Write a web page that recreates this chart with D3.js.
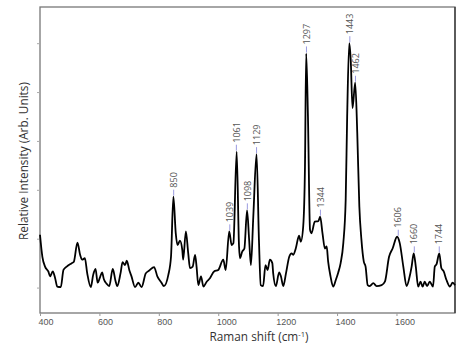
<!DOCTYPE html>
<html>
<head>
<meta charset="utf-8">
<script src="https://cdn.jsdelivr.net/npm/d3@7"></script>
<style>
  body { margin: 0; background: #fff; }
  svg { display: block; font-family: "Open Sans", "DejaVu Sans", sans-serif; }
</style>
</head>
<body>
<div class="container"></div>
<script>
// Raman shift (cm-1) and relative intensity
const shift = [400, 408, 417, 428, 434, 443, 451, 458, 470, 479, 490, 507, 514, 526, 535, 542, 551, 559, 571, 579,
  587, 594, 602, 609, 615, 624, 633, 645, 654, 660, 671, 678, 686, 692, 701, 708, 720, 731, 742, 756,
  768, 784, 795, 809, 817, 832, 841, 849, 857, 863, 871, 879, 882, 891, 899, 905, 914, 922, 927, 933,
  942, 950, 961, 972, 986, 1000, 1017, 1025, 1037, 1045, 1051, 1062, 1070, 1073, 1081, 1088, 1097, 1104, 1110, 1118,
  1129, 1137, 1143, 1151, 1159, 1166, 1174, 1182, 1185, 1194, 1205, 1211, 1219, 1228, 1239, 1247, 1252, 1261, 1272, 1278,
  1286, 1292, 1296, 1302, 1309, 1314, 1325, 1337, 1343, 1351, 1359, 1365, 1370, 1378, 1387, 1396, 1404, 1412, 1421, 1429,
  1434, 1441, 1446, 1452, 1461, 1468, 1475, 1482, 1490, 1496, 1503, 1510, 1522, 1533, 1550, 1561, 1575, 1587, 1602, 1611,
  1623, 1634, 1643, 1651, 1658, 1665, 1673, 1681, 1688, 1695, 1703, 1712, 1723, 1729, 1735, 1744, 1751, 1759, 1768, 1780,
  1789, 1797];
const intensity = [1.08, 0.63, 0.43, 0.33, 0.23, 0.33, 0.19, 0.02, 0.01, 0.36, 0.43, 0.50, 0.53, 0.92, 0.67, 0.57, 0.60, 0.29, 0.01, 0.26,
  0.38, 0.10, 0.21, 0.31, 0.17, 0.08, 0.03, 0.38, 0.14, 0.03, 0.29, 0.52, 0.46, 0.55, 0.35, 0.23, 0.01, 0.10, 0.01, 0.29,
  0.35, 0.42, 0.23, 0.10, 0.03, 0.26, 0.63, 1.86, 1.11, 0.87, 0.96, 0.77, 0.57, 1.15, 0.70, 0.40, 0.43, 0.67, 0.43, 0.05,
  0.23, 0.02, 0.12, 0.19, 0.33, 0.36, 0.57, 0.36, 1.15, 0.87, 0.91, 2.78, 0.84, 0.60, 0.74, 0.80, 1.58, 0.98, 0.46, 1.45,
  2.73, 0.98, 0.05, 0.03, 0.46, 0.36, 0.57, 0.50, 0.29, 0.03, 0.31, 0.23, 0.03, 0.29, 0.63, 0.70, 0.67, 0.80, 1.06, 0.94,
  1.25, 2.48, 4.79, 3.50, 1.18, 1.11, 1.35, 1.36, 1.45, 1.11, 0.80, 0.84, 0.53, 0.23, 0.02, 0.16, 0.31, 0.50, 0.91, 1.79,
  3.50, 5.00, 4.66, 3.67, 4.19, 3.16, 1.66, 0.98, 0.53, 0.43, 0.05, 0.03, 0.09, 0.03, 0.05, 0.12, 0.63, 0.80, 1.04, 0.91,
  0.43, 0.03, 0.19, 0.43, 0.70, 0.43, 0.02, 0.12, 0.02, 0.12, 0.03, 0.12, 0.02, 0.43, 0.48, 0.70, 0.40, 0.33, 0.16, 0.02,
  0.10, 0.05];

// annotated peaks
const peakLabels = [850, 1039, 1061, 1098, 1129, 1297, 1344, 1443, 1462, 1606, 1660, 1744];
const xTicks = [400, 600, 800, 1000, 1200, 1400, 1600];
const yTicks = [0, 1, 2, 3, 4, 5];

const width = 463, height = 347;
const margin = {top: 7, right: 8, bottom: 34, left: 40};

const svg = d3.select('.container')
    .append('svg')
    .attr('width', width)
    .attr('height', height);

const x = d3.scaleLinear().domain([400, 1797]).range([margin.left, width - margin.right]);
const y = d3.scaleLinear().domain([-0.52, 5.74]).range([height - margin.bottom, margin.top]);

const data = shift.map((s, i) => ({s: s, v: intensity[i]}));

// frame
svg.append('rect')
    .attr('x', margin.left)
    .attr('y', margin.top)
    .attr('width', width - margin.right - margin.left)
    .attr('height', height - margin.bottom - margin.top)
    .attr('fill', 'none')
    .attr('stroke', '#777')
    .attr('stroke-width', 1.3);

svg.append('line')   // right edge is darker in the reference
    .attr('x1', width - margin.right).attr('x2', width - margin.right)
    .attr('y1', margin.top).attr('y2', height - margin.bottom)
    .attr('stroke', '#333').attr('stroke-width', 1.3);

// x axis
const xAxis = svg.append('g')
    .attr('transform', `translate(0,${height - margin.bottom})`)
    .call(d3.axisBottom(x).tickValues(xTicks).tickSize(3).tickFormat(d3.format('d')));
xAxis.select('.domain').remove();
xAxis.selectAll('line').attr('stroke', '#999');
xAxis.selectAll('text')
    .attr('text-anchor', 'start')
    .attr('dx', -2)
    .attr('y', 6)
    .attr('fill', '#555')
    .style('font-size', '9px');

// y axis, ticks only
const yAxis = svg.append('g')
    .attr('transform', `translate(${margin.left},0)`)
    .call(d3.axisLeft(y).tickValues(yTicks).tickSize(3).tickFormat(''));
yAxis.select('.domain').remove();
yAxis.selectAll('line').attr('stroke', '#aaa');

// spectrum
const line = d3.line()
    .x(d => x(d.s))
    .y(d => y(d.v))
    .curve(d3.curveMonotoneX);

svg.append('path')
    .datum(data)
    .attr('fill', 'none')
    .attr('stroke', '#000')
    .attr('stroke-width', 1.8)
    .attr('stroke-linejoin', 'round')
    .attr('d', line);

// peak annotations: height taken from the nearest local max of the spectrum
function peakHeight(p) {
    const near = data.filter(d => Math.abs(d.s - p) <= 8);
    return d3.max(near, d => d.v);
}

const peaks = svg.append('g')
    .selectAll('g')
    .data(peakLabels)
    .enter().append('g')
    .attr('transform', d => `translate(${x(d)},${y(peakHeight(d))})`);

peaks.append('line')
    .attr('y1', -1)
    .attr('y2', -7)
    .attr('stroke', '#9a9ae0')
    .attr('stroke-width', 1);

peaks.append('text')
    .attr('transform', 'rotate(-90)')
    .attr('x', 9)
    .attr('dy', '0.35em')
    .attr('fill', '#555')
    .style('font-size', '9px')
    .text(d => d);

// axis titles
svg.append('text')
    .attr('x', 259)
    .attr('y', 341)
    .attr('text-anchor', 'middle')
    .attr('fill', '#333')
    .style('font-size', '11.8px')
    .html('Raman shift (cm<tspan dy="-4" font-size="7.5px">-1</tspan><tspan dy="4">)</tspan>');

svg.append('text')
    .attr('transform', 'translate(24,161) rotate(-90)')
    .attr('text-anchor', 'middle')
    .attr('dy', '0.35em')
    .attr('fill', '#333')
    .style('font-size', '11.8px')
    .text('Relative Intensity (Arb. Units)');
</script>
</body>
</html>
